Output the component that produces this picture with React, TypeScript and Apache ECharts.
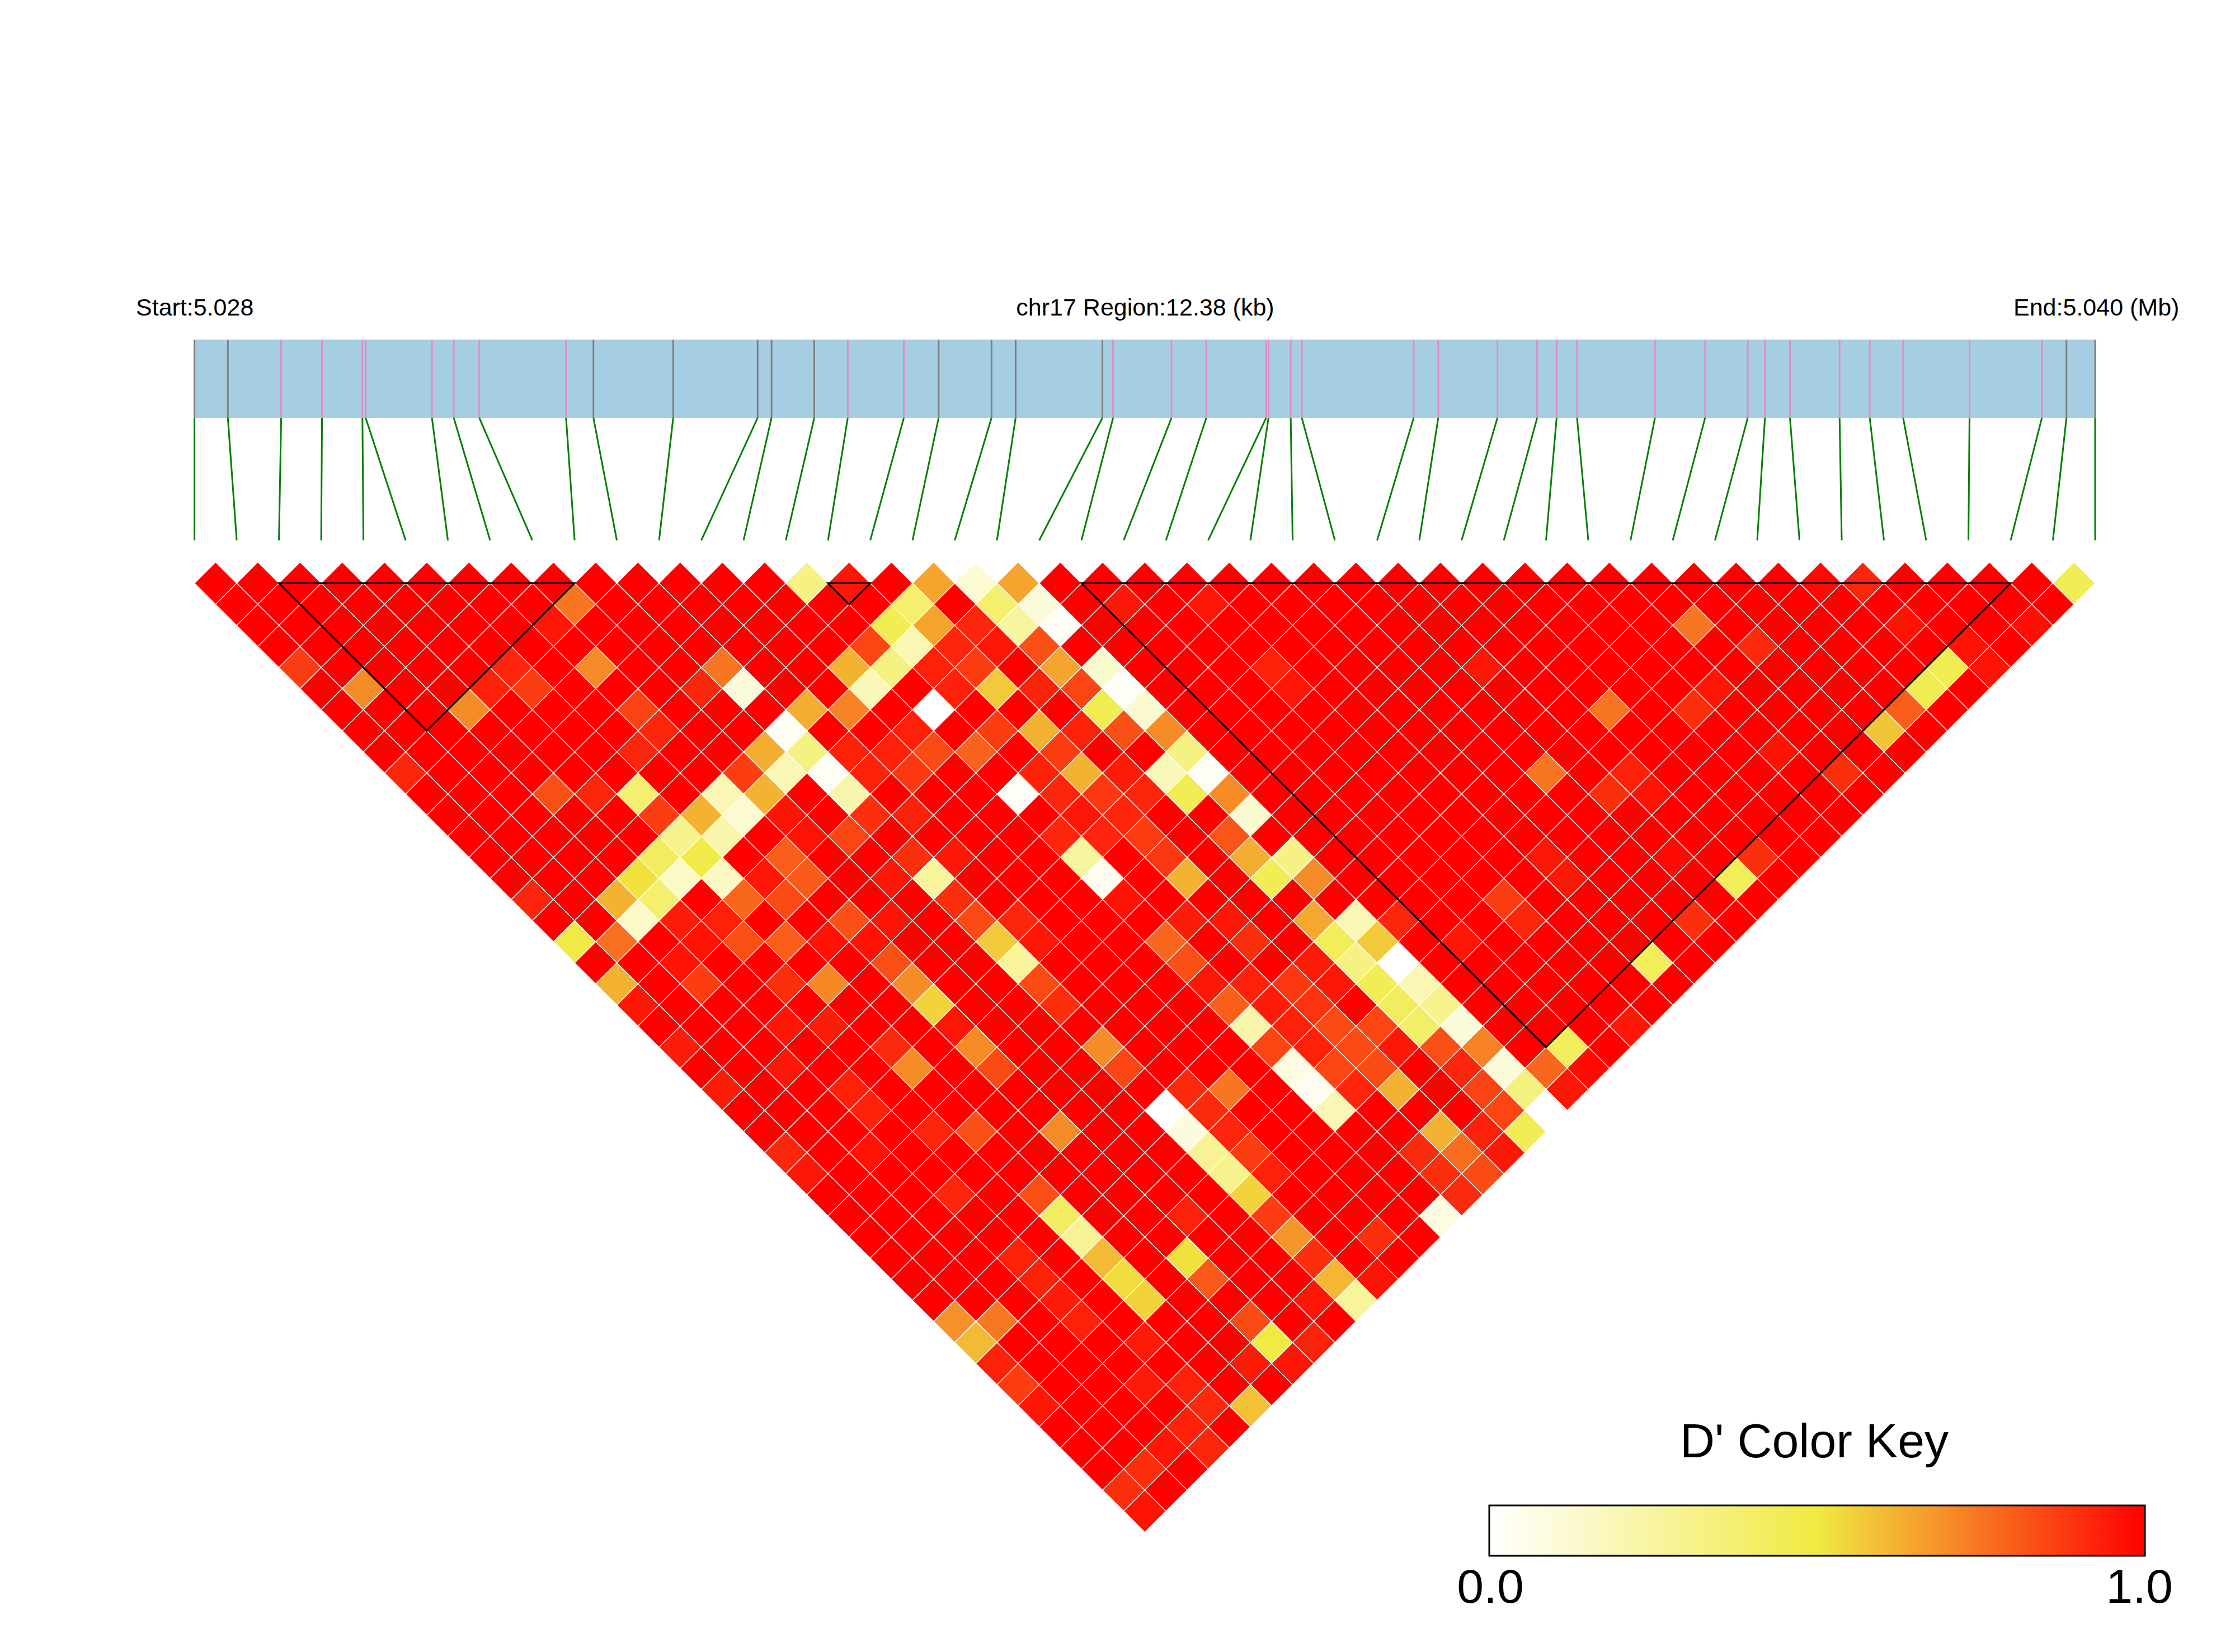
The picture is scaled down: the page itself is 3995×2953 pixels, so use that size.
import React, { useEffect, useRef } from "react";
import * as echarts from "echarts";

const FONT = '"Liberation Sans", Arial, sans-serif';

const headerLabels = ["Start:5.028", "chr17 Region:12.38 (kb)", "End:5.040 (Mb)"];
const legendTitle = "D' Color Key";
const legendTicks = ["0.0", "1.0"];
const colorStops = ["#FFFFFF", "#F0EA42", "#FF0000"];

const regionKb = 12.38;
const snpKb = [
  0, 0.2175, 0.5648, 0.8308, 1.0939, 1.1151, 1.5469, 1.689, 1.8552, 2.4204, 2.5986, 3.1182,
  3.6681, 3.7588, 4.0372, 4.2551, 4.6206, 4.8472, 5.1916, 5.3487, 5.9139, 5.9834, 6.3639,
  6.5905, 6.9805, 6.9958, 7.1404, 7.2129, 7.9414, 8.1014, 8.4869, 8.7456, 8.8724, 9.0054,
  9.513, 9.8396, 10.1172, 10.2291, 10.3923, 10.7155, 10.912, 11.1295, 11.5617, 12.0333,
  12.1932, 12.38,
];
// SNPs drawn with a grey tick; all the others are pink
const greyTicks = [0, 1, 10, 11, 12, 13, 14, 17, 18, 19, 20, 44, 45];

// LD blocks as [first SNP, last SNP]
const blocks = [
  [2, 9],
  [15, 16],
  [21, 43],
];

// D' below 1, by distance row (row = j - i - 1), each item [i + j, D']
const dPrimeRows: number[][][] = [
  [[29, .33], [31, .95], [35, .65], [37, .12], [39, .65], [77, .98], [79, .92], [89, .45]],
  [[18, .75], [34, .38], [38, .38], [40, .1], [44, .95], [48, .95]],
  [[17, .95], [33, .45], [35, .65], [37, .92], [39, .25], [41, .03], [71, .75], [81, .96], [87, .97]],
  [[32, .85], [34, .2], [36, .92], [38, .95], [40, .83], [74, .91], [84, .96]],
  [[5, .87], [15, .92], [19, .7], [25, .75], [31, .62], [33, .33], [35, .93], [37, .87], [41, .65], [43, .13], [51, .93], [61, .95], [83, .46], [85, .96]],
  [[8, .7], [14, .93], [16, .87], [24, .92], [26, .1], [32, .18], [36, .93], [38, .57], [40, .93], [42, .85], [44, .03], [52, .95], [72, .95], [82, .46]],
  [[13, .7], [21, .86], [29, .63], [31, .72], [35, 0], [43, .46], [45, .13], [67, .75], [71, .9], [81, .8]],
  [[22, .92], [28, .03], [34, .93], [38, .87], [40, .62], [42, .93], [44, .83], [46, .7], [80, .58]],
  [[21, .92], [27, .63], [29, .33], [31, .93], [33, .93], [35, .84], [37, .79], [41, .87], [47, .33], [75, .96]],
  [[10, .92], [26, .87], [28, .2], [30, .02], [32, .93], [34, .88], [40, .93], [42, .62], [44, .94], [46, .18], [48, .02], [64, .75], [68, .93], [78, .9]],
  [[17, .83], [19, .92], [21, .38], [25, .2], [27, .62], [31, .22], [39, .02], [41, .92], [43, .88], [45, .92], [47, .45], [49, .7], [67, .9], [69, .96]],
  [[22, .87], [24, .62], [26, .12], [28, .96], [32, .9], [34, .93], [42, .95], [44, .92], [50, .13]],
  [[23, .3], [25, .22], [29, .96], [31, .85], [41, .92], [43, .92], [45, .87], [49, .82]],
  [[22, .42], [24, .48], [28, .8], [34, .9], [36, .95], [42, .25], [46, .88], [50, .63], [52, .33], [64, .95], [70, .98], [74, .9]],
  [[21, .52], [23, .15], [25, .16], [27, .95], [29, .81], [33, .95], [35, .27], [43, .04], [47, .62], [51, .45], [53, .7], [65, .95], [73, .44]],
  [[16, .92], [20, .62], [22, .38], [26, .78], [28, .84], [36, .9], [44, .96], [62, .87]],
  [[21, .15], [23, .94], [25, .93], [31, .83], [33, .96], [37, .84], [39, .92], [47, .94], [49, .95], [53, .64], [55, .2], [57, .92], [63, .92], [71, .9]],
  [[18, .49], [20, .76], [24, .96], [26, .83], [28, .8], [30, .96], [32, .96], [38, .57], [40, .95], [46, .78], [50, .9], [54, .44], [56, .57], [60, .95]],
  [[23, .96], [33, .83], [39, .27], [47, .83], [53, .94], [55, .33], [57, 0], [69, .44]],
  [[20, .62], [24, .87], [28, .9], [30, .71], [34, .7], [40, .84], [48, .95], [50, .93], [52, .88], [54, .95], [56, .45], [58, .2]],
  [[21, .95], [35, .55], [41, .9], [49, .8], [51, .94], [53, .89], [57, .42], [59, .3]],
  [[28, .95], [30, .94], [36, .95], [50, .22], [52, .93], [54, .84], [56, .85], [58, .4], [60, .1], [68, .95]],
  [[23, .94], [33, .91], [37, .7], [43, .7], [51, .85], [53, .93], [55, .84], [57, .95], [59, .83], [61, .72], [65, .43]],
  [[28, .95], [34, .7], [38, .84], [44, .85], [52, .08], [54, .85], [56, .84], [60, .92], [62, .1], [64, .78], [66, .98]],
  [[25, .94], [31, .93], [47, .91], [49, .75], [53, .04], [55, .92], [57, .62], [61, .86], [63, .34], [65, .95]],
  [[32, .93], [46, 0], [48, .91], [54, .2], [62, .85], [64, 0]],
  [[35, .92], [37, .83], [41, .7], [47, .09], [49, .92], [59, .62], [61, .93], [63, .45]],
  [[28, .92], [32, .96], [48, .28], [50, .87], [58, .91], [60, .77], [62, .95]],
  [[29, .95], [49, .3], [51, .93], [59, .9], [61, .84]],
  [[36, .92], [40, .83], [50, .55], [60, .91]],
  [[41, .42], [47, .93], [51, .87], [59, .08]],
  [[42, .28], [52, .68], [56, .9]],
  [[39, .93], [43, .6], [47, .52], [53, .9]],
  [[40, .93], [44, .53], [48, .81], [54, .61], [56, .96]],
  [[41, .94], [45, .55], [53, .95], [55, .27]],
  [[36, .69], [38, .74], [42, .93], [50, .84]],
  [[37, .6], [45, .94], [51, .5], [53, .93]],
  [[38, .93], [50, .94], [52, .95]],
  [[39, .87], [45, .94], [47, .93]],
  [[40, .95], [48, .91], [50, .59]],
  [[47, .93]],
  [[46, .95], [48, .92]],
  [[45, .9]],
  [[44, .9]],
  [[45, .96]],
];

const SNP_COUNT = snpKb.length;

function buildCells(): number[][] {
  const cells: number[][] = [];
  for (let row = 0; row < SNP_COUNT - 1; row++) {
    const below = new Map(dPrimeRows[row].map((e) => [e[0], e[1]] as [number, number]));
    for (let i = 0; i + row + 1 < SNP_COUNT; i++) {
      const j = i + row + 1;
      cells.push([i, j, below.has(i + j) ? (below.get(i + j) as number) : 1]);
    }
  }
  return cells;
}

const kbToMarker = (kb: number) => (kb * (SNP_COUNT - 1)) / regionKb;

// Rows of the y axis above the triangle (row 0 is the first diamond line)
const BAR_TOP = -11.55;
const BAR_BOTTOM = -7.84;
const LINK_BOTTOM = -2.03;

export default function App() {
  const ref = useRef<HTMLDivElement>(null);
  useEffect(() => {
    const chart = echarts.init(ref.current!, undefined, { renderer: "svg" });
    const text = (t: string, x: number, y: number, size: number, align: string) => ({
      type: "text",
      silent: true,
      style: { text: t, x, y, fill: "#000", fontSize: size, fontFamily: FONT, textAlign: align, textVerticalAlign: "middle" },
    });
    const option: any = {
      animation: false,
      backgroundColor: "#fff",
      grid: { left: 347.6, top: 1004.8, width: 3397.4, height: 46 * 37.7, show: false },
      xAxis: { type: "value", min: 0, max: SNP_COUNT - 1, show: false },
      yAxis: { type: "value", min: -1, max: 45, inverse: true, show: false },
      visualMap: { show: false, min: 0, max: 1, dimension: 2, seriesIndex: 0, inRange: { color: colorStops } },
      series: [
        {
          type: "custom",
          name: "D'",
          clip: false,
          silent: true,
          data: buildCells(),
          renderItem: (_p: any, api: any) => {
            const i = api.value(0);
            const j = api.value(1);
            const x = (i + j) / 2;
            const r = j - i - 1;
            return {
              type: "polygon",
              shape: {
                points: [
                  api.coord([x - 0.5, r]),
                  api.coord([x, r - 1]),
                  api.coord([x + 0.5, r]),
                  api.coord([x, r + 1]),
                ],
              },
              style: { fill: api.visual("color"), stroke: "#fff", lineWidth: 1.3 },
            };
          },
        },
        {
          type: "custom",
          name: "Blocks",
          clip: false,
          silent: true,
          data: blocks,
          renderItem: (_p: any, api: any) => {
            const a = api.value(0);
            const b = api.value(1);
            return {
              type: "polygon",
              shape: {
                points: [api.coord([a, 0]), api.coord([b, 0]), api.coord([(a + b) / 2, b - a])],
              },
              style: { fill: "none", stroke: "#000", lineWidth: 3 },
            };
          },
        },
        {
          type: "custom",
          name: "Region",
          clip: false,
          silent: true,
          data: [[0, regionKb]],
          renderItem: (_p: any, api: any) => {
            const p0 = api.coord([kbToMarker(api.value(0)), BAR_TOP]);
            const p1 = api.coord([kbToMarker(api.value(1)), BAR_BOTTOM]);
            return {
              type: "rect",
              shape: { x: p0[0], y: p0[1], width: p1[0] - p0[0], height: p1[1] - p0[1] },
              style: { fill: "#A6CEE3" },
            };
          },
        },
        {
          type: "custom",
          name: "SNP",
          clip: false,
          silent: true,
          data: snpKb.map((kb, k) => [kb, k, greyTicks.includes(k) ? 1 : 0]),
          renderItem: (_p: any, api: any) => {
            const x = kbToMarker(api.value(0));
            const k = api.value(1);
            const top = api.coord([x, BAR_TOP]);
            const bottom = api.coord([x, BAR_BOTTOM]);
            const end = api.coord([k, LINK_BOTTOM]);
            return {
              type: "group",
              children: [
                {
                  type: "line",
                  shape: { x1: top[0], y1: top[1], x2: bottom[0], y2: bottom[1] },
                  style: { stroke: api.value(2) ? "#7F7F7F" : "#E78AC3", lineWidth: 3 },
                },
                {
                  type: "line",
                  shape: { x1: bottom[0], y1: bottom[1], x2: end[0], y2: end[1] },
                  style: { stroke: "#008000", lineWidth: 3 },
                },
              ],
            };
          },
        },
      ],
      graphic: [
        text(headerLabels[0], 243, 549, 43, "left"),
        text(headerLabels[1], 2047, 549, 43, "center"),
        text(headerLabels[2], 3599, 549, 43, "left"),
        text(legendTitle, 3243, 2575, 86, "center"),
        {
          type: "rect",
          silent: true,
          shape: { x: 2662, y: 2691, width: 1172, height: 90 },
          style: {
            stroke: "#000",
            lineWidth: 3,
            fill: new echarts.graphic.LinearGradient(0, 0, 1, 0, [
              { offset: 0, color: colorStops[0] },
              { offset: 0.5, color: colorStops[1] },
              { offset: 1, color: colorStops[2] },
            ]),
          },
        },
        text(legendTicks[0], 2664, 2835, 86, "center"),
        text(legendTicks[1], 3824, 2835, 86, "center"),
      ],
    };
    chart.setOption(option);
    return () => chart.dispose();
  }, []);
  return (
    <div
      ref={ref}
      style={{ position: "absolute", left: 0, top: 0, width: 3995, height: 2953, background: "#fff" }}
    />
  );
}
